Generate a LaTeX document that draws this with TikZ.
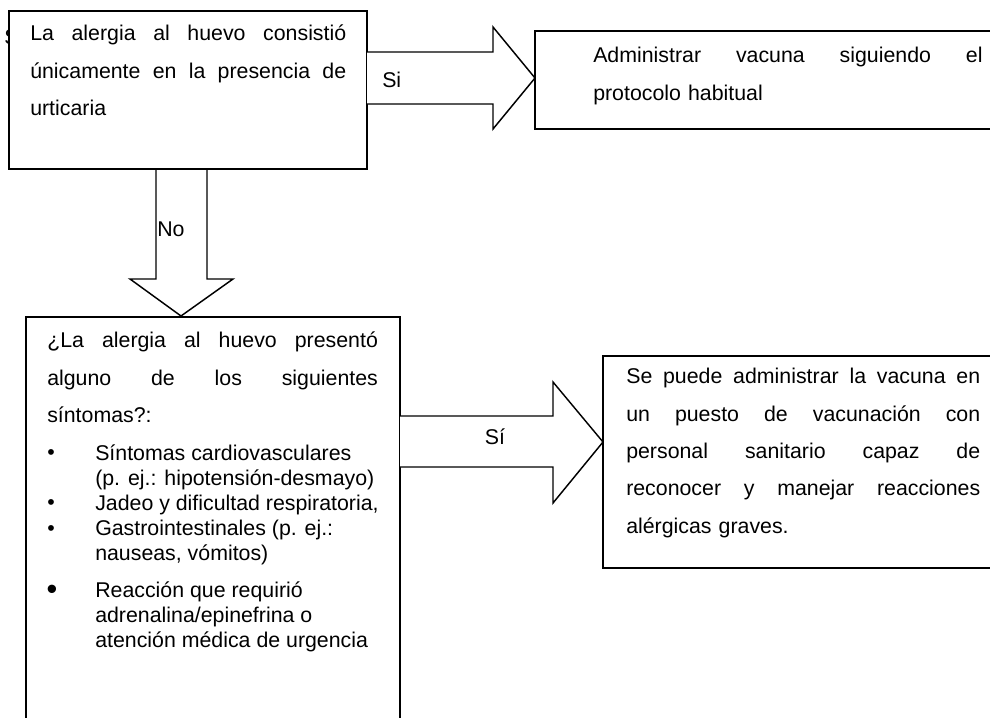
\documentclass[tikz,border=0pt]{standalone}
\usepackage{fontspec}
\setmainfont{Liberation Sans}
\newcommand{\jline}[1]{\noindent\hbox to \hsize{#1}}
\begin{document}
\begin{tikzpicture}[x=0.75pt,y=-0.75pt,
  box/.style={draw, fill=white, line width=1.1pt, line join=miter},
  barrow/.style={draw, fill=white, line width=1.1pt, line join=miter},
  txt/.style={anchor=north west, inner sep=0pt, align=left, font=\fontsize{16}{28}\selectfont},
  lst/.style={anchor=north west, inner sep=0pt, align=left, font=\fontsize{16}{18.75}\selectfont},
  lbl/.style={font=\fontsize{16}{18}\selectfont, inner sep=0pt},
  bul/.style={font=\fontsize{16}{18}\selectfont, inner sep=0pt}]
\useasboundingbox (0,0) rectangle (990,718);
\begin{scope}
\clip (0,0) rectangle (990,718);
% stray letter hidden behind the first box
\node[lbl, anchor=west] (stray) at (4,37) {S};
% boxes
\draw[box] (9,11) rectangle (367,169);
\draw[box] (535,31) rectangle (1000,129);
\draw[box] (26,317) rectangle (400,730);
\draw[box] (603,356) rectangle (1000,568);
% block arrows
\draw[barrow] (367,52) -- (493,52) -- (493,27) -- (535,78) -- (493,129) -- (493,104) -- (367,104);
\draw[barrow] (156,170) -- (156,279) -- (130,279) -- (181,316) -- (233,279) -- (207,279) -- (207,170);
\draw[barrow] (400,416) -- (553,416) -- (553,382) -- (603,442) -- (553,503) -- (553,467) -- (400,467);
% labels
\node[lbl, anchor=west] (si1) at (382,80) {Si};
\node[lbl, anchor=west] (no) at (157,229) {No};
\node[lbl] (si2) at (495,437) {Sí};
% texts
\node[txt, text width=237pt] (t1) at (30,25) {\jline{La\hfil alergia\hfil al\hfil huevo\hfil consistió}\\\jline{únicamente\hfil en\hfil la\hfil presencia\hfil de}\\urticaria};
\node[txt, text width=292pt] (t2) at (593,47) {\jline{Administrar\hfil vacuna\hfil siguiendo\hfil el}\\protocolo habitual};
\node[txt, text width=248pt] (t3) at (47,332) {\jline{¿La\hfil alergia\hfil al\hfil huevo\hfil presentó}\\\jline{alguno\hfil de\hfil los\hfil siguientes}\\síntomas?:};
\node[txt, text width=265.5pt] (t4) at (626,368) {\jline{Se\hfil puede\hfil administrar\hfil la\hfil vacuna\hfil en}\\\jline{un\hfil puesto\hfil de\hfil vacunación\hfil con}\\\jline{personal\hfil sanitario\hfil capaz\hfil de}\\\jline{reconocer\hfil y\hfil manejar\hfil reacciones}\\alérgicas graves.};
\node[lst] (list) at (95,445) {Síntomas cardiovasculares\\(p. ej.: hipotensión-desmayo)\\Jadeo y dificultad respiratoria,\\Gastrointestinales (p. ej.:\\nauseas, vómitos)\\[9pt]Reacción que requirió\\adrenalina/epinefrina o\\atención médica de urgencia};
\node[bul] (bu1) at (51,455) {•};
\node[bul] (bu2) at (51,505) {•};
\node[bul] (bu3) at (51,531) {•};
\node[bul, font=\fontsize{23}{24}\selectfont] (bu4) at (52,592) {•};
\end{scope}
\end{tikzpicture}
\end{document}
